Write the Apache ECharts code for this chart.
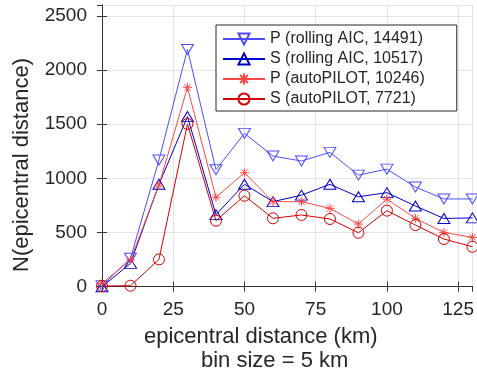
<!DOCTYPE html>
<html>
<head>
<meta charset="utf-8">
<script src="https://cdn.jsdelivr.net/npm/echarts@6/dist/echarts.min.js"></script>
<style>
html,body{margin:0;padding:0;background:#fff;}
#c{width:477px;height:378px;}
</style>
</head>
<body>
<div id="c"></div>
<script>
const distances = [0, 10, 20, 30, 40, 50, 60, 70, 80, 90, 100, 110, 120, 130];
const pRolling = [10, 262, 1170, 2190, 1080, 1415, 1206, 1160, 1240, 1030, 1085, 920, 810, 810];
const sRolling = [0, 215, 945, 1570, 665, 945, 785, 845, 945, 830, 868, 745, 630, 635];
const pAuto = [30, 246, 938, 1840, 825, 1052, 785, 785, 723, 578, 809, 631, 501, 455];
const sAuto = [6, 9, 252, 1502, 609, 840, 631, 662, 625, 498, 702, 569, 440, 369];
const seriesNames = ['P (rolling AIC, 14491)', 'S (rolling AIC, 10517)', 'P (autoPILOT, 10246)', 'S (autoPILOT, 7721)'];
const xTicks = [0, 25, 50, 75, 100, 125];
const yTicks = [0, 500, 1000, 1500, 2000, 2500];

const FONT = "'Liberation Sans', Arial, Helvetica, sans-serif";
const TXT = '#262626';
const pair = arr => distances.map((d, i) => [d, arr[i]]);

const downTri = 'path://M0,0L10,0L5,10Z';
const upTri = 'path://M5,0L10,10L0,10Z';
const star = 'path://M5,0L5,10M0,5L10,5M1.5,1.5L8.5,8.5M8.5,1.5L1.5,8.5';

function mk(name, data, color, symbol, size) {
  return {
    name: name, type: 'line', data: pair(data),
    symbol: symbol, symbolSize: size, showAllSymbol: true,
    lineStyle: {color: color, width: 1},
    itemStyle: {color: 'rgba(0,0,0,0)', borderColor: color, borderWidth: 1},
    emphasis: {disabled: true},
    animation: false
  };
}

const chart = echarts.init(document.getElementById('c'), null, {renderer: 'canvas'});
chart.setOption({
  animation: false,
  backgroundColor: '#fff',
  grid: {left: 102, top: 5, right: 0, bottom: 91.3, containLabel: false},
  xAxis: [{
    type: 'value', min: 0, max: 130, interval: 25,
    axisLine: {show: true, lineStyle: {color: '#333', width: 1}},
    axisTick: {show: true, inside: true, length: 5, lineStyle: {color: '#333'}},
    axisLabel: {fontSize: 19, color: TXT, fontFamily: FONT, margin: 14, showMaxLabel: false,
      formatter: v => xTicks.indexOf(v) >= 0 ? String(v) : ''},
    splitLine: {show: true, lineStyle: {color: '#e3e3e3', width: 1}}
  }, {
    type: 'value', position: 'top', min: 0, max: 130, interval: 25,
    axisLine: {show: true, lineStyle: {color: '#333', width: 1}},
    axisTick: {show: true, inside: true, length: 5, lineStyle: {color: '#333'}},
    axisLabel: {show: false}, splitLine: {show: false}
  }],
  yAxis: [{
    type: 'value', min: 0, max: 2600, interval: 500,
    axisLine: {show: true, lineStyle: {color: '#333', width: 1}},
    axisTick: {show: true, inside: true, length: 5, lineStyle: {color: '#333'}},
    axisLabel: {fontSize: 19, color: TXT, fontFamily: FONT, margin: 15, showMaxLabel: false,
      formatter: v => yTicks.indexOf(v) >= 0 ? String(v) : ''},
    splitLine: {show: true, lineStyle: {color: '#e3e3e3', width: 1}}
  }, {
    type: 'value', position: 'right', min: 0, max: 2600, interval: 500,
    axisLine: {show: true, lineStyle: {color: '#333', width: 1}},
    axisTick: {show: true, inside: true, length: 5, lineStyle: {color: '#333'}},
    axisLabel: {show: false}, splitLine: {show: false}
  }],
  legend: {
    orient: 'vertical', left: 216, top: 25, align: 'left',
    itemWidth: 42, itemHeight: 14, itemGap: 4,
    padding: [6, 32, 4, 6],
    backgroundColor: '#fff', borderColor: '#262626', borderWidth: 1,
    textStyle: {fontSize: 16, color: TXT, fontFamily: FONT},
    data: seriesNames,
    selectedMode: false
  },
  series: [
    mk(seriesNames[0], pRolling, '#4d4dff', downTri, [12, 10]),
    mk(seriesNames[1], sRolling, '#0000c8', upTri, [12, 10]),
    mk(seriesNames[2], pAuto, '#ff4747', star, 9),
    mk(seriesNames[3], sAuto, '#d20000', 'circle', 11)
  ],
  graphic: [
    {type: 'text', x: 22, y: 165, rotation: Math.PI / 2,
      style: {text: 'N(epicentral distance)', fontSize: 22, fontFamily: FONT, fill: TXT, textAlign: 'center', textVerticalAlign: 'middle'}},
    {type: 'text', x: 144, y: 336.5,
      style: {text: 'epicentral distance (km)', fontSize: 22, fontFamily: FONT, fill: TXT, textAlign: 'left', textVerticalAlign: 'middle'}},
    {type: 'text', x: 201, y: 361,
      style: {text: 'bin size = 5 km', fontSize: 22, fontFamily: FONT, fill: TXT, textAlign: 'left', textVerticalAlign: 'middle'}}
  ]
});
</script>
</body>
</html>
